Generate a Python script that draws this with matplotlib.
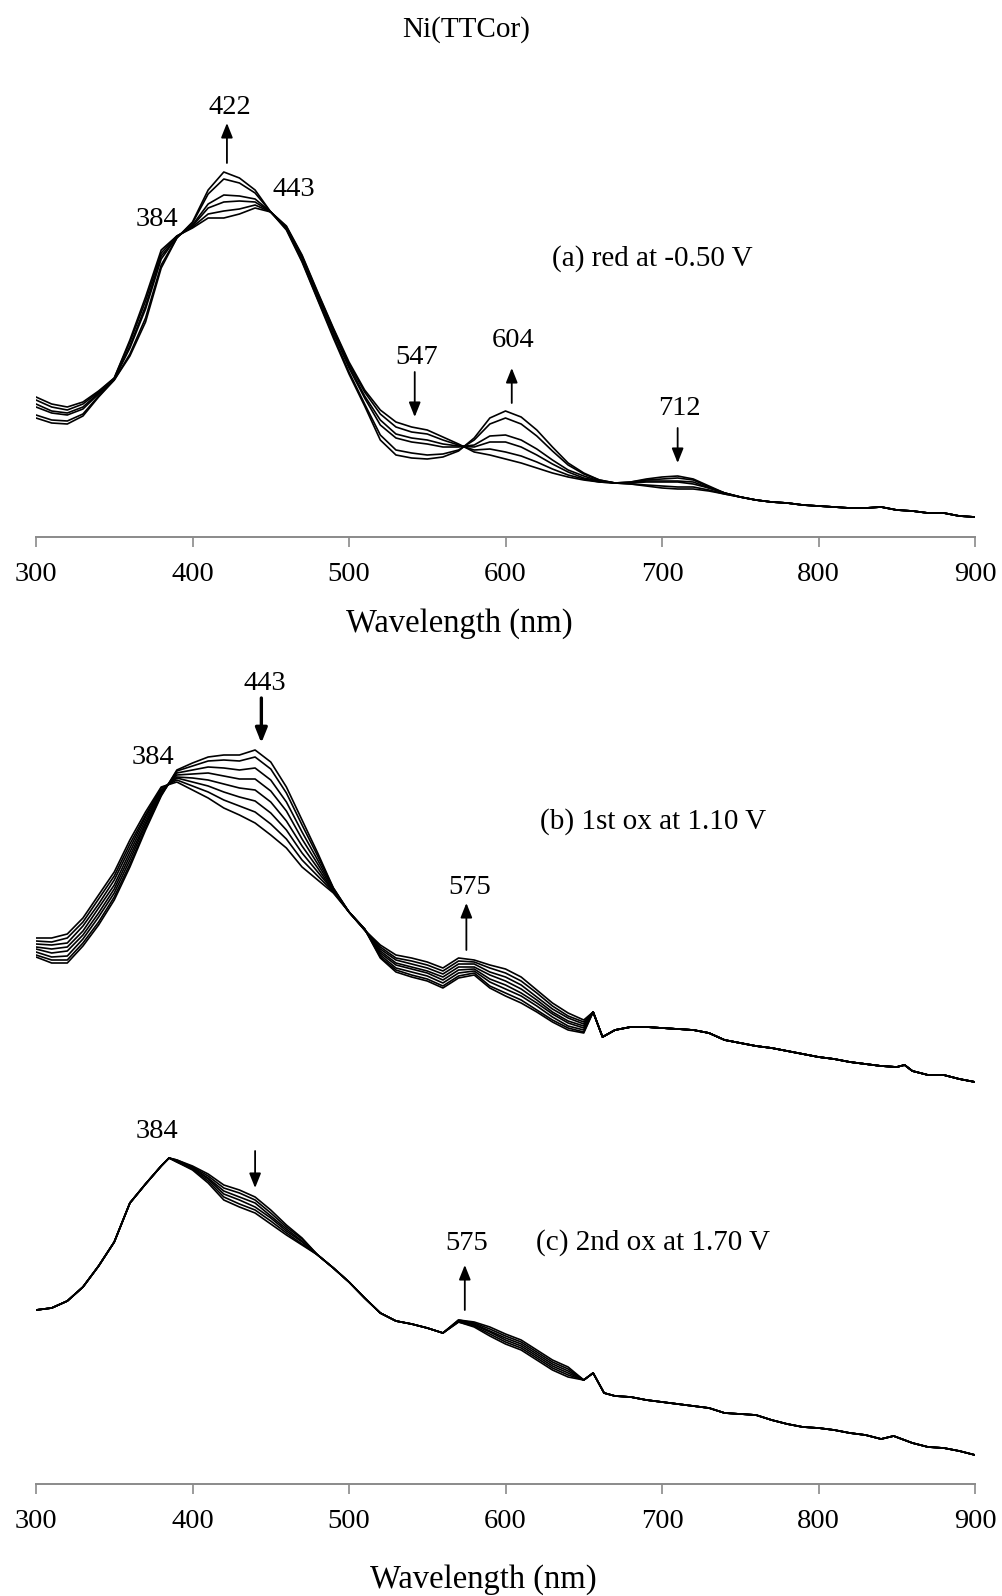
import matplotlib
matplotlib.use("Agg")
import matplotlib.pyplot as plt

plt.rcParams['font.family'] = ['Liberation Serif', 'DejaVu Serif']

# ------------------------------------------------------------------
# Spectra of Ni(TTCor); absorbance in mAU, wavelength in nm
# ------------------------------------------------------------------

# (a) reduction at -0.50 V : six scans, 300-740 nm, common tail above 740 nm
red_wl = list(range(300, 741, 10))
red_scan1 = [140, 133, 130, 135, 146, 159, 197, 240, 287, 301, 309, 319, 319, 323, 329, 325, 311, 282, 245, 209,
             175, 147, 127, 115, 110, 107, 100, 93, 85, 82, 78, 74, 69, 64, 60, 57, 55, 54, 55, 58,
             60, 61, 58, 51, 44]
red_scan2 = [137, 130, 127, 133, 145, 159, 195, 236, 284, 301, 310, 323, 326, 328, 332, 325, 310, 281, 244, 208,
             173, 145, 123, 110, 105, 103, 97, 92, 87, 88, 85, 81, 75, 68, 62, 58, 55, 54, 55, 57,
             58, 59, 57, 50, 44]
red_scan3 = [133, 126, 124, 130, 144, 158, 191, 231, 281, 300, 311, 329, 335, 336, 335, 325, 310, 280, 242, 206,
             171, 141, 117, 103, 99, 97, 93, 91, 90, 95, 95, 90, 82, 73, 65, 59, 56, 54, 54, 56,
             56, 56, 55, 49, 44]
red_scan4 = [130, 124, 122, 128, 143, 158, 189, 228, 278, 300, 312, 333, 342, 341, 338, 325, 309, 279, 241, 204,
             169, 139, 112, 99, 95, 93, 90, 90, 92, 101, 102, 97, 88, 77, 67, 61, 56, 54, 54, 55,
             55, 55, 53, 49, 44]
red_scan5 = [122, 117, 116, 123, 141, 157, 183, 219, 272, 299, 314, 343, 358, 354, 344, 325, 308, 276, 238, 201,
             165, 133, 102, 87, 84, 82, 83, 87, 97, 113, 119, 113, 101, 86, 72, 63, 57, 54, 53, 52,
             51, 50, 50, 47, 43]
red_scan6 = [119, 114, 113, 121, 140, 157, 181, 215, 269, 299, 315, 347, 365, 359, 347, 325, 307, 275, 237, 199,
             163, 131, 97, 82, 79, 78, 80, 86, 99, 119, 126, 120, 107, 90, 74, 64, 57, 54, 53, 51,
             49, 48, 48, 46, 43]
red_tail_wl = list(range(750, 901, 10))
red_tail = [40, 37, 35, 34, 32, 31, 30, 29, 29, 30, 27, 26, 24, 24, 21, 20]

# (b) first oxidation at 1.10 V : eight scans, 300-650 nm, common tail above 650 nm
ox1_wl = list(range(300, 651, 10))
ox1_scan1 = [143, 137, 137, 154, 175, 200, 233, 270, 304, 330, 337, 343, 345, 345, 350, 338, 313, 280, 247, 212,
             188, 171, 142, 128, 123, 119, 112, 122, 125, 112, 104, 97, 88, 78, 70, 67]
ox1_scan2 = [145, 140, 140, 157, 178, 203, 236, 272, 305, 329, 334, 339, 340, 339, 343, 331, 307, 275, 244, 212,
             188, 171, 143, 130, 125, 121, 114, 124, 127, 114, 107, 100, 90, 80, 72, 68]
ox1_scan3 = [148, 143, 144, 161, 183, 207, 240, 275, 306, 327, 330, 333, 332, 330, 332, 320, 298, 268, 240, 211,
             188, 171, 145, 132, 128, 124, 117, 127, 129, 118, 111, 104, 94, 83, 74, 70]
ox1_scan4 = [151, 147, 149, 165, 187, 211, 244, 277, 308, 325, 326, 327, 324, 321, 321, 309, 289, 261, 236, 210,
             188, 171, 147, 135, 131, 127, 120, 130, 131, 121, 115, 107, 97, 86, 77, 72]
ox1_scan5 = [153, 151, 153, 169, 192, 215, 248, 280, 309, 323, 322, 320, 316, 312, 310, 298, 279, 254, 232, 209,
             188, 170, 149, 137, 133, 129, 123, 133, 133, 125, 119, 111, 100, 88, 79, 74]
ox1_scan6 = [156, 155, 157, 174, 196, 220, 252, 283, 310, 322, 318, 314, 308, 303, 299, 287, 270, 247, 228, 209,
             188, 170, 151, 140, 136, 132, 126, 136, 136, 128, 123, 115, 103, 91, 82, 76]
ox1_scan7 = [159, 158, 162, 178, 201, 224, 256, 285, 312, 320, 314, 308, 300, 294, 288, 276, 261, 240, 224, 208,
             188, 170, 153, 142, 139, 135, 129, 139, 138, 132, 127, 119, 107, 94, 84, 78]
ox1_scan8 = [162, 162, 166, 182, 205, 228, 260, 288, 313, 318, 310, 302, 292, 285, 277, 265, 252, 233, 220, 207,
             188, 170, 155, 145, 142, 138, 132, 142, 140, 135, 131, 123, 110, 97, 87, 80]
ox1_tail_wl = [656, 662, 670, 680, 690, 700, 710, 720, 730, 740, 750, 760, 770, 780, 790, 800, 810, 820, 830, 840,
               850, 855, 860, 870, 880, 890, 900]
ox1_tail = [88, 63, 70, 73, 73, 72, 71, 70, 67, 60, 57, 54, 52, 49, 46, 43, 41, 38, 36, 34,
            33, 35, 29, 25, 25, 21, 18]

# (c) second oxidation at 1.70 V : common head, six scans 385-650 nm, common tail
ox2_head_wl = list(range(300, 381, 10))
ox2_head = [174, 176, 183, 197, 218, 242, 281, 300, 318]
ox2_wl = [385] + list(range(390, 651, 10))
ox2_scan1 = [326, 324, 318, 310, 299, 294, 287, 274, 259, 246, 229, 216, 202, 186, 171, 163, 160, 156, 151, 162,
             157, 148, 140, 134, 124, 114, 107, 104]
ox2_scan2 = [326, 324, 317, 308, 296, 291, 284, 271, 257, 245, 229, 216, 202, 186, 171, 163, 160, 156, 151, 162,
             158, 150, 142, 136, 126, 116, 109, 104]
ox2_scan3 = [326, 323, 316, 306, 293, 287, 281, 268, 255, 243, 229, 216, 202, 186, 171, 163, 160, 156, 151, 163,
             159, 152, 144, 138, 128, 118, 111, 104]
ox2_scan4 = [326, 323, 316, 305, 290, 284, 277, 266, 253, 242, 229, 216, 202, 186, 171, 163, 160, 156, 151, 163,
             160, 153, 146, 140, 130, 120, 113, 104]
ox2_scan5 = [326, 322, 315, 303, 287, 280, 274, 263, 251, 240, 229, 216, 202, 186, 171, 163, 160, 156, 151, 164,
             161, 155, 148, 142, 132, 122, 115, 104]
ox2_scan6 = [326, 322, 314, 301, 284, 277, 271, 260, 249, 239, 229, 216, 202, 186, 171, 163, 160, 156, 151, 164,
             162, 157, 150, 144, 134, 124, 117, 104]
ox2_tail_wl = [656, 663, 670, 680, 690, 700, 710, 720, 730, 740, 750, 760, 770, 780, 790, 800, 810, 820, 830, 840,
               848, 860, 870, 880, 890, 900]
ox2_tail = [111, 91, 88, 87, 84, 82, 80, 78, 76, 71, 70, 69, 64, 60, 57, 56, 54, 51, 49, 45,
            48, 41, 37, 36, 33, 29]

wl_ticks = [300, 400, 500, 600, 700, 800, 900]

# ------------------------------------------------------------------
W, H = 1002, 1596
fig = plt.figure(figsize=(W / 100, H / 100), dpi=100)
fig.patch.set_facecolor('white')


def make_axes(top, bottom, ymax, with_axis):
    ax = fig.add_axes([36 / W, 1 - bottom / H, 939 / W, (bottom - top) / H])
    ax.patch.set_visible(False)
    ax.set_xlim(300, 900)
    ax.set_ylim(0, ymax)
    for side in ('left', 'right', 'top'):
        ax.spines[side].set_visible(False)
    ax.set_yticks([])
    if with_axis:
        ax.spines['bottom'].set_color('#8a8a8a')
        ax.spines['bottom'].set_linewidth(1.4)
        ax.set_xticks(wl_ticks)
        ax.set_xticklabels([str(t) for t in wl_ticks])
        ax.tick_params(axis='x', direction='out', length=7, width=1.2, color='#8a8a8a',
                       labelsize=20.5, labelcolor='black', pad=11)
    else:
        ax.spines['bottom'].set_visible(False)
        ax.set_xticks([])
    return ax


ax_a = make_axes(60, 537, 477, True)
ax_b = make_axes(650, 1100, 450, False)
ax_c = make_axes(1060, 1484, 424, True)

line_kw = dict(color='black', lw=1.2, solid_joinstyle='round')

for scan in (red_scan1, red_scan2, red_scan3, red_scan4, red_scan5, red_scan6):
    ax_a.plot(red_wl + red_tail_wl, scan + red_tail, **line_kw)

for scan in (ox1_scan1, ox1_scan2, ox1_scan3, ox1_scan4,
             ox1_scan5, ox1_scan6, ox1_scan7, ox1_scan8):
    ax_b.plot(ox1_wl + ox1_tail_wl, scan + ox1_tail, **line_kw)

for scan in (ox2_scan1, ox2_scan2, ox2_scan3, ox2_scan4, ox2_scan5, ox2_scan6):
    ax_c.plot(ox2_head_wl + ox2_wl + ox2_tail_wl, ox2_head + scan + ox2_tail, **line_kw)


def arrow(ax, x, tail, head, lw=1.3):
    ax.annotate('', xy=(x, head), xytext=(x, tail), annotation_clip=False,
                arrowprops=dict(arrowstyle='-|>,head_length=0.55,head_width=0.22',
                                mutation_scale=16, color='black', lw=lw,
                                shrinkA=0, shrinkB=0))


def label(ax, x, y, s, size=20.5):
    ax.text(x, y, s, ha='center', va='center', fontsize=size, color='black', clip_on=False)


# (a) labels and arrows
label(ax_a, 424, 429, '422')
arrow(ax_a, 422, 374, 414)
label(ax_a, 465, 348, '443')
label(ax_a, 377, 317, '384')
label(ax_a, 543, 180, '547')
arrow(ax_a, 542, 165, 120)
label(ax_a, 605, 197, '604')
arrow(ax_a, 604, 134, 169)
label(ax_a, 711, 129, '712')
arrow(ax_a, 710, 109, 74)
label(ax_a, 694, 278, '(a) red at -0.50 V', 21)

# (b) labels and arrows
label(ax_b, 446, 417, '443')
arrow(ax_b, 444, 402, 357, lw=2.4)
label(ax_b, 375, 342, '384')
label(ax_b, 577, 212, '575')
arrow(ax_b, 575, 150, 197)
label(ax_b, 694, 278, '(b) 1st ox at 1.10 V', 21)

# (c) labels and arrows
label(ax_c, 377, 352, '384')
arrow(ax_c, 440, 333, 296)
label(ax_c, 575, 240, '575')
arrow(ax_c, 574, 174, 219)
label(ax_c, 694, 241, '(c) 2nd ox at 1.70 V', 21)

# title and axis titles
fig.text(466 / W, 1 - 30 / H, 'Ni(TTCor)', ha='center', va='center', fontsize=21)
fig.text(459 / W, 1 - 624 / H, 'Wavelength (nm)', ha='center', va='center', fontsize=23.5)
fig.text(483 / W, 1 - 1580 / H, 'Wavelength (nm)', ha='center', va='center', fontsize=23.5)

fig.savefig('out.png', dpi=100, facecolor='white')
